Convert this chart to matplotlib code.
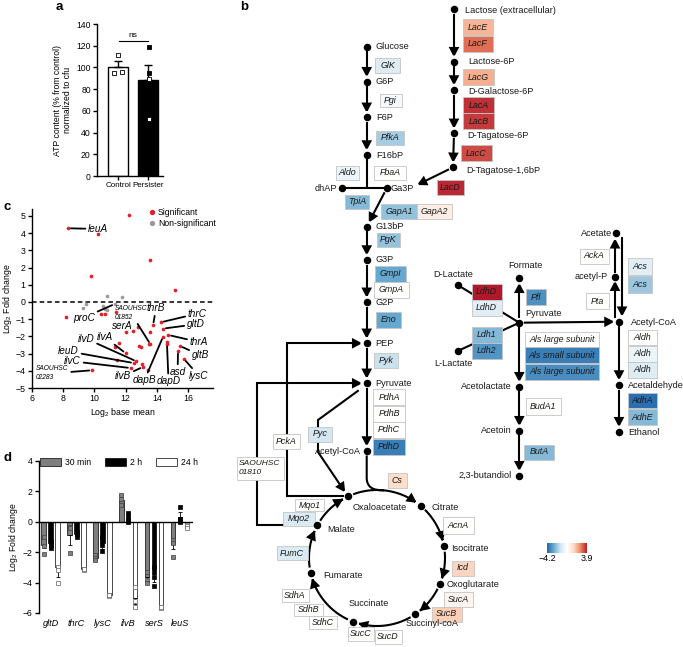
import numpy as np
import matplotlib
matplotlib.use("Agg")
import matplotlib.pyplot as plt  # noqa: E402
from matplotlib.colors import LinearSegmentedColormap, TwoSlopeNorm  # noqa: E402
from matplotlib.patches import FancyArrowPatch, Rectangle, Patch, PathPatch  # noqa: E402
from matplotlib.lines import Line2D  # noqa: E402
from matplotlib.path import Path  # noqa: E402
from matplotlib.cm import ScalarMappable  # noqa: E402

plt.rcParams["font.family"] = ["Liberation Sans", "DejaVu Sans"]
plt.rcParams["mathtext.fontset"] = "custom"
plt.rcParams["mathtext.rm"] = "Liberation Sans"
plt.rcParams["mathtext.it"] = "Liberation Sans:italic"
plt.rcParams["font.size"] = 6
plt.rcParams["axes.linewidth"] = 1.0

W, H = 683, 647

# ── a: ATP content ──
atp_groups = ["Control", "Persister"]
atp_mean = [100.0, 88.5]
atp_sem = [5.6, 14.0]
atp_ctrl_pts = [111.5, 94.5, 95.5]
atp_pers_pts = [118.5, 94.5, 89.5, 52.5]

# ── c: RNA-seq amino-acid genes ──
sig_x = [8.31, 10.23, 12.2, 13.54, 9.75, 15.19, 8.2, 10.4, 10.68, 11.4, 12.8, 12.0, 12.47,
         13.59, 14.27, 13.76, 14.4, 14.74, 14.4, 14.65, 14.65, 13.59, 13.48, 12.84, 13.01,
         11.55, 11.3, 12.0, 15.49, 15.36, 15.74, 12.69, 11.47, 12.52, 13.07, 13.11, 12.32,
         13.44, 9.85]
sig_y = [4.28, 3.95, 5.08, 2.46, 1.49, 0.72, -0.87, -0.68, -0.68, -0.6, -1.45, -1.74, -1.69,
         -1.74, -1.18, -1.34, -1.55, -1.92, -2.02, -2.31, -2.42, -2.46, -2.42, -2.54, -2.64,
         -2.38, -2.64, -2.98, -2.56, -2.85, -3.31, -3.45, -3.35, -3.55, -3.59, -3.78, -3.84,
         -3.97, -3.97]
ns_x = [9.29, 9.48, 10.8, 11.79, 10.66, 10.8, 10.55, 11.3]
ns_y = [-0.35, -0.14, 0.35, 0.27, -0.39, -0.48, -0.25, -0.12]
# (label, target set, target index)
gene_labels = [("leuA", "s", 0), ("proC", "n", 7), ("SAOUHSC\n01852", "s", 21),
               ("thrB", "s", 15), ("thrC", "s", 14), ("gltD", "s", 16), ("thrA", "s", 17),
               ("gltB", "s", 28), ("lysC", "s", 30), ("asd", "s", 29), ("dapD", "s", 20),
               ("dapB", "s", 18), ("ilvB", "s", 35), ("ilvC", "s", 36), ("leuD", "s", 33),
               ("ilvD", "s", 31), ("ilvA", "s", 27), ("serA", "s", None),
               ("SAOUHSC\n02283", "s", 38)]

# ── d: qPCR ──
qpcr_genes = ["gltD", "thrC", "lysC", "ilvB", "serS", "leuS"]
qpcr_series = ["30 min", "2 h", "24 h"]
qpcr_mean = [[-1.5, -0.9, -2.35, 1.45, -3.65, -1.45],
             [-1.4, -0.8, -1.4, 0.25, -3.45, 0.3],
             [-3.0, -3.1, -4.8, -5.0, -5.6, -0.3]]
qpcr_err = [[0.25, 0.6, 0.15, 0.3, 0.3, 0.35],
            [0.15, 0.1, 0.4, 0.3, 0.5, 0.35],
            [0.6, 0.05, 0.05, 0.4, 0.1, 0.1]]
qpcr_pts = [[[-1.0, -1.6, -2.1], [-0.35, -0.4, -2.05], [-2.2, -2.4, -2.5],
             [1.1, 1.5, 1.75], [-3.3, -3.8, -4.0], [-1.2, -1.4, -2.3]],
            [[-1.3, -1.5, -1.7], [-0.7, -0.8, -1.0], [-1.0, -1.5, -1.9],
             [0.0, 0.3, 0.6], [-3.0, -3.6, -4.2], [0.0, 0.2, 1.0]],
            [[-3.0, -3.2, -4.0], [-3.1, -3.15, -3.1], [-4.8, -4.85, -4.8],
             [-4.3, -5.2, -5.6], [-5.6, -5.65, -5.6], [-0.2, -0.3, -0.4]]]

# ── b: pathway enzymes, log2 fold change ──
enzymes = ["GlK", "Pgi", "PfkA", "Aldo", "FbaA", "TpiA", "GapA1", "GapA2", "PgK", "GmpI",
           "GmpA", "Eno", "Pyk", "PdhA", "PdhB", "PdhC", "PdhD", "Pyc", "PckA",
           "SAOUHSC\n01810", "Mqo1", "Mqo2", "FumC", "SdhA", "SdhB", "SdhC", "SucC", "SucD",
           "Cs", "AcnA", "Icd", "SucA", "SucB", "LacE", "LacF", "LacG", "LacA", "LacB",
           "LacC", "LacD", "LdhD", "LdhD", "Ldh1", "Ldh2", "Pfl", "Als large subunit",
           "Als small subunit", "Als large subunit", "BudA1", "ButA", "AckA", "Pta", "Acs",
           "Acs", "Aldh", "Aldh", "Aldh", "AdhA", "AdhE"]
enzyme_lfc = [-1.0, -0.35, -2.0, -0.6, 0.0, -2.4, -2.2, 0.6, -2.2, -2.8,
              0.0, -2.8, -1.5, 0.0, 0.0, 0.0, -3.7, -1.3, 0.0,
              0.0, 0.0, -1.1, -1.1, 0.0, 0.0, 0.0, 0.0, 0.0,
              1.2, 0.0, 1.4, 0.4, 1.5, 1.9, 2.9, 2.0, 3.6, 3.5,
              3.3, 3.7, 3.9, -0.9, -2.4, -3.2, -3.3, 0.0,
              -3.7, -3.4, 0.0, -2.4, 0.0, 0.0, -0.9,
              -2.1, 0.0, -0.6, -1.0, -4.0, -2.4]
lfc_min, lfc_max = -4.2, 3.9

# layout of the diagram (pixel positions) -------------------------------------
box_layout = [(387.5, 65.5, 25, 15), (390.5, 100.5, 22, 13), (390, 137.5, 28, 14),
              (347.5, 172.5, 23, 14), (390, 172.5, 32, 14), (357, 202, 24, 14),
              (399, 211.5, 36, 15), (434.5, 211.5, 35, 15), (388.5, 240, 23, 14),
              (390.5, 274, 31, 16), (391.5, 290, 35, 16), (388.5, 320, 25, 16),
              (386, 360.5, 24, 15), (389, 397, 32, 16), (389, 413.5, 32, 16),
              (389, 430, 32, 16), (389, 446.5, 32, 16), (320, 434, 24, 15),
              (286.5, 441, 27, 15), (260, 468, 47, 23), (309.5, 505, 29, 12),
              (299, 518.5, 32, 14), (292, 553, 31, 14), (295, 595, 27, 13),
              (308.5, 610, 29, 12), (323, 622.5, 28, 13), (361, 634, 26, 14),
              (388, 636.5, 27, 14), (397, 480.5, 19, 15), (458, 525.5, 31, 17),
              (462.5, 568, 22, 15), (458.7, 599, 29, 15), (446.7, 614, 30, 15),
              (478, 27, 30, 16), (478, 43.5, 30, 16), (478.5, 77, 31, 16),
              (478.5, 105, 31, 16), (478.5, 121, 31, 16), (476.5, 153, 31, 16),
              (450.5, 187.5, 27, 15), (486.7, 291.7, 30, 16), (486.7, 308, 30, 16),
              (486.7, 334.7, 30, 16), (486.7, 350.5, 30, 16), (536, 297, 20, 16),
              (562, 339, 74, 15), (562, 355, 74, 16), (562, 371.5, 74, 16),
              (543, 406.5, 35, 17), (539, 452, 30, 15), (594, 256, 29, 15),
              (597, 301, 23, 16), (640, 266.5, 24, 17), (640, 284.5, 24, 17),
              (642, 337.5, 29, 15), (642, 353.5, 29, 16), (642, 369.5, 29, 16),
              (642, 400.5, 29, 15), (642, 417, 29, 16)]

GX = 366.7
nodes = {"Glucose": (GX, 46.7), "G6P": (GX, 81.7), "F6P": (GX, 117.3), "F16bP": (GX, 155),
         "dhAP": (341.7, 188.3), "Ga3P": (386.7, 188.3), "G13bP": (GX, 226.7),
         "G3P": (GX, 260), "G2P": (GX, 302.3), "PEP": (GX, 343.3), "Pyr": (GX, 383.3),
         "AcCoA": (GX, 451),
         "Lac": (454, 9.3), "Lac6P": (454, 61.7), "Gal6P": (454, 90), "Tag6P": (454, 133.3),
         "Tag16bP": (453, 167.3),
         "Formate": (519.3, 278.3), "Pyr2": (519.3, 322.7), "Acetolactate": (519.3, 386.7),
         "Acetoin": (519.3, 430.7), "Butandiol": (519.3, 475.7),
         "DLac": (457.7, 285), "LLac": (457.7, 351),
         "Acetate": (616, 233.3), "AcP": (615, 276.7), "AcCoA2": (619, 321.7),
         "Acetaldehyde": (619, 385), "Ethanol": (619, 431.7)}
TCA_C, TCA_R = (377.0, 558.0), 68.0
tca_names = ["Oxaloacetate", "Citrate", "Isocitrate", "Oxoglutarate", "Succinyl-coA",
             "Succinate", "Fumarate", "Malate"]
tca_angles = [115, 49.7, 9.8, -22.4, -55.9, -110.8, -167.4, -208.7]
for n, a in zip(tca_names, tca_angles):
    nodes[n] = (TCA_C[0] + TCA_R * np.cos(np.radians(a)), TCA_C[1] - TCA_R * np.sin(np.radians(a)))

node_labels = [("Glucose", 376, 46.7, "left"), ("G6P", 376, 81.7, "left"),
               ("F6P", 376, 117.3, "left"), ("F16bP", 376, 155, "left"),
               ("dhAP", 337, 188.3, "right"), ("Ga3P", 390.5, 188.3, "left"),
               ("G13bP", 376, 226.7, "left"), ("G3P", 376, 260, "left"),
               ("G2P", 376, 302.3, "left"), ("PEP", 375, 343.3, "left"),
               ("Pyruvate", 375, 383.3, "left"), ("Acetyl-CoA", 361, 451, "right"),
               ("Lactose (extracellular)", 465, 10.5, "left"), ("Lactose-6P", 468, 61, "left"),
               ("D-Galactose-6P", 468, 91.7, "left"), ("D-Tagatose-6P", 467, 136, "left"),
               ("D-Tagatose-1,6bP", 466, 170.7, "left"), ("Formate", 525, 266, "center"),
               ("Pyruvate", 525.5, 313.3, "left"), ("D-Lactate", 453, 274.5, "center"),
               ("L-Lactate", 453, 363, "center"), ("Acetolactate", 512, 386.7, "right"),
               ("Acetoin", 512, 430.7, "right"), ("2,3-butandiol", 512, 475.7, "right"),
               ("Acetate", 612, 233.3, "right"), ("acetyl-P", 607.5, 276.7, "right"),
               ("Acetyl-CoA", 631, 322.7, "left"), ("Acetaldehyde", 628, 386, "left"),
               ("Ethanol", 628, 432.7, "left"), ("Oxaloacetate", 353, 508, "left"),
               ("Citrate", 431.5, 507.3, "left"), ("Isocitrate", 451.5, 548.3, "left"),
               ("Oxoglutarate", 446.5, 584.5, "left"), ("Succinyl-coA", 432, 623, "center"),
               ("Succinate", 369, 604, "center"), ("Fumarate", 323, 575, "left"),
               ("Malate", 327, 529, "left")]

fig = plt.figure(figsize=(W / 100, H / 100), dpi=100)


def pax(l, t, r, b, **kw):
    return fig.add_axes([l / W, 1 - b / H, (r - l) / W, (b - t) / H], **kw)


# ───────────────────────── b: pathway ─────────────────────────
axb = pax(0, 0, W, H)
axb.set_xlim(0, W); axb.set_ylim(H, 0); axb.axis("off")
cmap = LinearSegmentedColormap.from_list(
    "lfc", ["#2166ac", "#67a9cf", "#d1e5f0", "#ffffff", "#fddbc7", "#ef8a62", "#b2182b"])
norm = TwoSlopeNorm(vmin=lfc_min, vcenter=0, vmax=lfc_max)


def arrow(pts, head=True, lw=1.5):
    style = "-|>,head_length=0.5,head_width=0.26" if head else "-"
    axb.add_patch(FancyArrowPatch(path=Path(np.asarray(pts, float)), arrowstyle=style,
                                  mutation_scale=10, lw=lw, color="k", zorder=2,
                                  joinstyle="miter", capstyle="butt"))


def link(a, b, ga=4.5, gb=4.5, head=True):
    p, q = np.array(nodes[a], float), np.array(nodes[b], float)
    d = (q - p) / np.hypot(*(q - p))
    arrow([p + d * ga, q - d * gb], head=head)


# glycolysis
for a, b in [("Glucose", "G6P"), ("G6P", "F6P"), ("F6P", "F16bP"), ("Ga3P", "G13bP"),
             ("G13bP", "G3P"), ("G3P", "G2P"), ("G2P", "PEP"), ("PEP", "Pyr"), ("Pyr", "AcCoA")]:
    link(a, b)
arrow([nodes["F16bP"], (GX, nodes["dhAP"][1])], head=False)
arrow([nodes["dhAP"], nodes["Ga3P"]], head=False)
# lactose
for a, b in [("Lac", "Lac6P"), ("Lac6P", "Gal6P"), ("Gal6P", "Tag6P"), ("Tag6P", "Tag16bP")]:
    link(a, b)
arrow([(nodes["Tag16bP"][0] - 4, nodes["Tag16bP"][1] + 2), (417, 185)])
# fermentation branches
link("DLac", "Pyr2", 0, 0, head=False)
link("LLac", "Pyr2", 0, 0, head=False)
for a, b in [("Pyr2", "Formate"), ("Pyr2", "Acetolactate"), ("Acetolactate", "Acetoin"),
             ("Acetoin", "Butandiol"), ("Pyr2", "AcCoA2"), ("AcCoA2", "Acetaldehyde"),
             ("Acetaldehyde", "Ethanol")]:
    link(a, b)
arrow([(615, nodes["AcCoA2"][1] - 4), (615, nodes["AcP"][1] + 4)])
arrow([(615, nodes["AcP"][1] - 4), (615, nodes["Acetate"][1] + 5)])
arrow([(622, nodes["Acetate"][1] + 4), (622, nodes["AcCoA2"][1] - 5)])
# anaplerotic links
oaa, mal, pep, pyr = nodes["Oxaloacetate"], nodes["Malate"], nodes["PEP"], nodes["Pyr"]
arrow([(oaa[0] - 4, oaa[1]), (287, oaa[1]), (287, pep[1]), (pep[0] - 4.5, pep[1])])
arrow([(mal[0] - 4, mal[1]), (256.7, mal[1]), (256.7, pyr[1]), (pyr[0] - 4.5, pyr[1])])
arrow([(pyr[0] - 8, pyr[1] + 7), (318, 420), (318, 452), (oaa[0] - 3, oaa[1] - 4)])
# TCA cycle arcs
for a1, a2 in zip(tca_angles, tca_angles[1:] + [tca_angles[0] - 360]):
    t = np.radians(np.linspace(a1 - 4.5, a2 + 4.5, 40))
    arrow(np.c_[TCA_C[0] + TCA_R * np.cos(t), TCA_C[1] - TCA_R * np.sin(t)])
t_in = np.radians(84)
entry = Path([(GX, 455.5), (GX, 478), (GX, 491), (TCA_C[0] + TCA_R * np.cos(t_in),
                                                   TCA_C[1] - TCA_R * np.sin(t_in))],
             [Path.MOVETO, Path.LINETO, Path.CURVE3, Path.CURVE3])
axb.add_patch(PathPatch(entry, fill=False, lw=1.5, color="k", zorder=2))

nx, ny = zip(*nodes.values())
axb.plot(nx, ny, "o", ms=4.4, color="k", zorder=5)
for txt, x, y, ha in node_labels:
    axb.text(x, y, txt, ha=ha, va="center", fontsize=6.6, color="#1a1a1a", zorder=6)

for name, val, (cx, cy, w, h) in zip(enzymes, enzyme_lfc, box_layout):
    axb.add_patch(Rectangle((cx - w / 2, cy - h / 2), w, h, facecolor=cmap(norm(val)),
                            edgecolor="#c4c4c4", lw=0.6, zorder=4))
    if "\n" in name:
        axb.text(cx - w / 2 + 2.5, cy, name, ha="left", va="center", fontsize=6.0,
                 style="italic", color="#1a1a1a", zorder=6, linespacing=1.25)
    else:
        axb.text(cx, cy, name, ha="center", va="center", fontsize=6.4, style="italic",
                 color="#1a1a1a", zorder=6)

cax = pax(547, 543, 587, 553)
cb = fig.colorbar(ScalarMappable(norm=norm, cmap=cmap), cax=cax, orientation="horizontal",
                  ticks=[lfc_min, lfc_max])
cb.outline.set_visible(False)
cb.ax.set_xticklabels(["\u22124.2", "3.9"])
cax.tick_params(length=0, labelsize=6.4, pad=1)

# ───────────────────────── a ─────────────────────────
ax = pax(97, 24, 163, 176)
xa = np.arange(len(atp_groups))
ax.bar(xa, atp_mean, width=0.66, color=["white", "black"], edgecolor="black", lw=1.0, zorder=2)
ax.errorbar(xa, atp_mean, yerr=[np.zeros(len(xa)), atp_sem], fmt="none", ecolor="black",
            elinewidth=1.0, capsize=3, capthick=1.0, zorder=3)
ctrl_jit = [0.0, -0.12, 0.12]
ax.scatter(xa[0] + np.array(ctrl_jit), atp_ctrl_pts, marker="s", s=8, facecolor="white",
           edgecolor="black", lw=0.6, zorder=4)
pers_face = ["black" if p > atp_mean[1] + 2 else "white" for p in atp_pers_pts]
ax.scatter(np.full(len(atp_pers_pts), xa[1] + 0.02), atp_pers_pts, marker="s", s=8,
           facecolor=pers_face, edgecolor="black", lw=0.6, zorder=4)
ax.plot([0.03, 0.99], [124, 124], color="k", lw=0.8)
ax.text(0.51, 126, "ns", ha="center", va="bottom", fontsize=6)
ax.set_xlim(-0.7, 1.5); ax.set_ylim(0, 140)
ax.set_yticks(range(0, 141, 20))
ax.set_xticks(xa); ax.set_xticklabels(atp_groups, fontsize=5.8)
ax.tick_params(axis="y", labelsize=6.2)
ax.tick_params(length=3, width=1.0, pad=1.5)
ax.spines[["top", "right"]].set_visible(False)
ax.set_ylabel("ATP content (% from control)\nnormalized to cfu", fontsize=6.2, labelpad=3)

# ───────────────────────── c ─────────────────────────
ax = pax(32, 209, 213, 388)
ax.axhline(0, color="k", lw=1.1, ls=(0, (3, 2)), zorder=1)
ax.scatter(ns_x, ns_y, s=7, color="#9a9a9a", lw=0, zorder=3, label="Non-significant")
ax.scatter(sig_x, sig_y, s=7, color="#e3202a", lw=0, zorder=3, label="Significant")
label_pos = [(9.6, 4.24, "left"), (9.33, -0.91, "center"), (11.3, -0.66, "left"),
             (13.95, -0.36, "center"), (16.6, -0.68, "center"), (16.5, -1.3, "center"),
             (16.7, -2.33, "center"), (16.8, -3.1, "center"), (16.7, -4.3, "center"),
             (15.33, -4.07, "center"), (14.75, -4.61, "center"), (13.2, -4.55, "center"),
             (11.83, -4.3, "center"), (8.6, -3.45, "center"), (8.34, -2.87, "center"),
             (9.46, -2.13, "center"), (10.66, -2.03, "center"), (11.77, -1.41, "center"),
             (6.26, -4.15, "left")]
for (txt, src, idx), (tx, ty, ha) in zip(gene_labels, label_pos):
    small = "\n" in txt
    kw = dict(ha=ha, va="center", fontsize=4.8 if small else 7.2, style="italic",
              linespacing=1.35)
    if idx is None:
        ax.text(tx, ty, txt, **kw)
        continue
    xy = (sig_x[idx], sig_y[idx]) if src == "s" else (ns_x[idx], ns_y[idx])
    ax.annotate(txt, xy=xy, xytext=(tx, ty),
                arrowprops=dict(arrowstyle="-", lw=1.3, color="k", shrinkA=0, shrinkB=2),
                **kw)
ax.set_xlim(6, 17.6); ax.set_ylim(-5, 5.4)
ax.set_xticks(range(6, 17, 2)); ax.set_yticks(range(-5, 6))
ax.tick_params(labelsize=6.3, length=3, width=1.0, pad=1.5)
ax.spines[["top", "right"]].set_visible(False)
ax.set_xlabel("Log$_2$ base mean", fontsize=6.3, labelpad=2)
ax.set_ylabel("Log$_2$ Fold change", fontsize=6.3, labelpad=1)
hnd = [Line2D([], [], ls="", marker="o", ms=2.8, color="#e3202a", label="Significant"),
       Line2D([], [], ls="", marker="o", ms=2.8, color="#9a9a9a", label="Non-significant")]
ax.legend(handles=hnd, loc="upper left", bbox_to_anchor=(0.6, 1.04), frameon=False,
          fontsize=6.2, handletextpad=0.1, labelspacing=0.25, borderpad=0.2,
          handlelength=1.2)

# ───────────────────────── d ─────────────────────────
ax = pax(39, 461, 193, 613)
xg = np.arange(len(qpcr_genes))
offsets = [-0.27, 0.0, 0.27]
fills = ["#7f7f7f", "black", "white"]
pt_face = ["#7f7f7f", "black", "white"]
pt_edge = ["#404040", "black", "#606060"]
for k in range(3):
    m = np.array(qpcr_mean[k])
    e = np.array(qpcr_err[k])
    xs = xg + offsets[k]
    ax.bar(xs, m, width=0.17, color=fills[k], edgecolor="black", lw=0.5, zorder=2)
    lo = np.where(m < 0, e, 0); hi = np.where(m > 0, e, 0)
    ax.errorbar(xs, m, yerr=[lo, hi], fmt="none", ecolor="black", elinewidth=0.6,
                capsize=1.5, capthick=0.6, zorder=3)
    for x, pts in zip(xs, qpcr_pts[k]):
        ax.scatter(np.full(len(pts), x), pts, marker="s", s=5, facecolor=pt_face[k],
                   edgecolor=pt_edge[k], lw=0.5, zorder=4)
ax.axhline(0, color="k", lw=1.0, zorder=3)
ax.set_xlim(-0.45, 5.5); ax.set_ylim(-6, 4)
ax.set_yticks(range(-6, 5, 2))
ax.set_xticks(xg); ax.set_xticklabels(qpcr_genes, style="italic", fontsize=6.6)
ax.tick_params(axis="x", length=0, pad=4)
ax.tick_params(axis="y", labelsize=6.2, length=3, width=1.0, pad=1.5)
ax.spines[["top", "right", "bottom"]].set_visible(False)
ax.set_ylabel("Log$_2$ Fold change", fontsize=6.2, labelpad=2)
leg_h = [Patch(facecolor=f, edgecolor="black", lw=0.5, label=s) for f, s in zip(fills, qpcr_series)]
ax.legend(handles=leg_h, loc="center", bbox_to_anchor=(0.52, 0.99), ncol=3, frameon=False,
          fontsize=6.2, handlelength=2.4, handleheight=0.9, handletextpad=0.5,
          columnspacing=1.6)

# panel letters
for s, x, y in [("a", 56, 7), ("b", 240, 7), ("c", 3, 207), ("d", 4, 458)]:
    fig.text(x / W, 1 - y / H, s, fontsize=9.5, fontweight="bold", ha="left", va="center")

fig.savefig("out.png", dpi=100)
